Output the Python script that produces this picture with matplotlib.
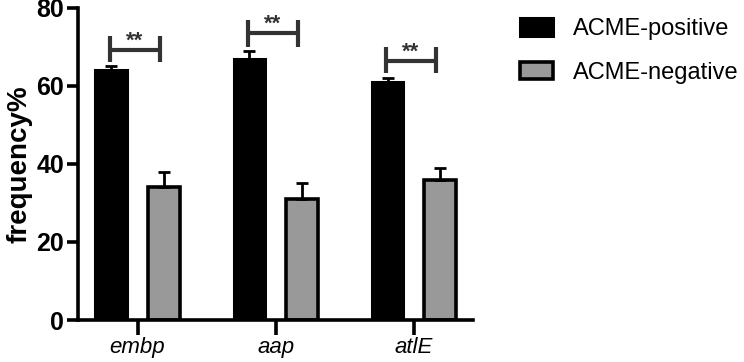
import numpy as np
import matplotlib.pyplot as plt

plt.rcParams['font.family'] = ['Liberation Sans', 'DejaVu Sans']

genes = ['embp', 'aap', 'atlE']
pos_vals = [64, 67, 61]
pos_err = [1, 2, 1]
neg_vals = [34, 31, 36]
neg_err = [4, 4, 3]
# bracket: height, tick bottom, tick top
br_y = [69.2, 73.6, 66.4]
br_lo = [66.2, 70, 63.3]
br_hi = [72.8, 77, 70]
sig = ['**', '**', '**']

fig = plt.figure(figsize=(7.44, 3.62), dpi=100)
ax = fig.add_axes([0.105, 0.116, 0.531, 0.862])

x = np.arange(len(genes))
w = 0.23
off = 0.19
ax.bar(x - off, pos_vals, w, color='black', edgecolor='black', linewidth=2.2,
       yerr=[[0]*3, pos_err], error_kw=dict(ecolor='black', elinewidth=2, capsize=4, capthick=2),
       label='ACME-positive', zorder=2)
ax.bar(x + off, neg_vals, w, color='#999999', edgecolor='black', linewidth=2.6,
       yerr=[[0]*3, neg_err], error_kw=dict(ecolor='black', elinewidth=2, capsize=4, capthick=2),
       label='ACME-negative', zorder=2)

for i in range(len(genes)):
    x0 = x[i] - off - 0.01
    x1 = x[i] + off - 0.03
    ax.plot([x0, x1], [br_y[i], br_y[i]], color='#333333', lw=3, solid_capstyle='butt', clip_on=False)
    ax.plot([x0, x0], [br_lo[i], br_hi[i]], color='#333333', lw=3, solid_capstyle='butt', clip_on=False)
    ax.plot([x1, x1], [br_lo[i], br_hi[i]], color='#333333', lw=3, solid_capstyle='butt', clip_on=False)
    ax.text((x0 + x1) / 2, br_hi[i] - 2.7, sig[i], ha='center', va='baseline',
            fontsize=16, fontweight='bold', color='#333333', clip_on=False)

ax.set_xlim(-0.43, 2.43)
ax.set_ylim(0, 80)
ax.set_yticks([0, 20, 40, 60, 80])
ax.set_xticks(x)
ax.set_xticklabels(genes, fontsize=16, fontstyle='italic')
for lab in ax.get_yticklabels():
    lab.set_fontweight('bold')
    lab.set_fontsize(18)
ax.set_ylabel('frequency%', fontsize=20, fontweight='bold', labelpad=3)

for s in ['top', 'right']:
    ax.spines[s].set_visible(False)
for s in ['left', 'bottom']:
    ax.spines[s].set_linewidth(2.6)
ax.tick_params(axis='y', length=8, width=2.6, pad=2)
ax.tick_params(axis='x', length=11, width=2.6, pad=1)

fig.legend(loc='upper left', bbox_to_anchor=(0.67, 1.008), frameon=False, fontsize=17,
           handlelength=1.4, handleheight=0.75, handletextpad=0.85, labelspacing=0.9)

fig.savefig('out.png', dpi=100)
